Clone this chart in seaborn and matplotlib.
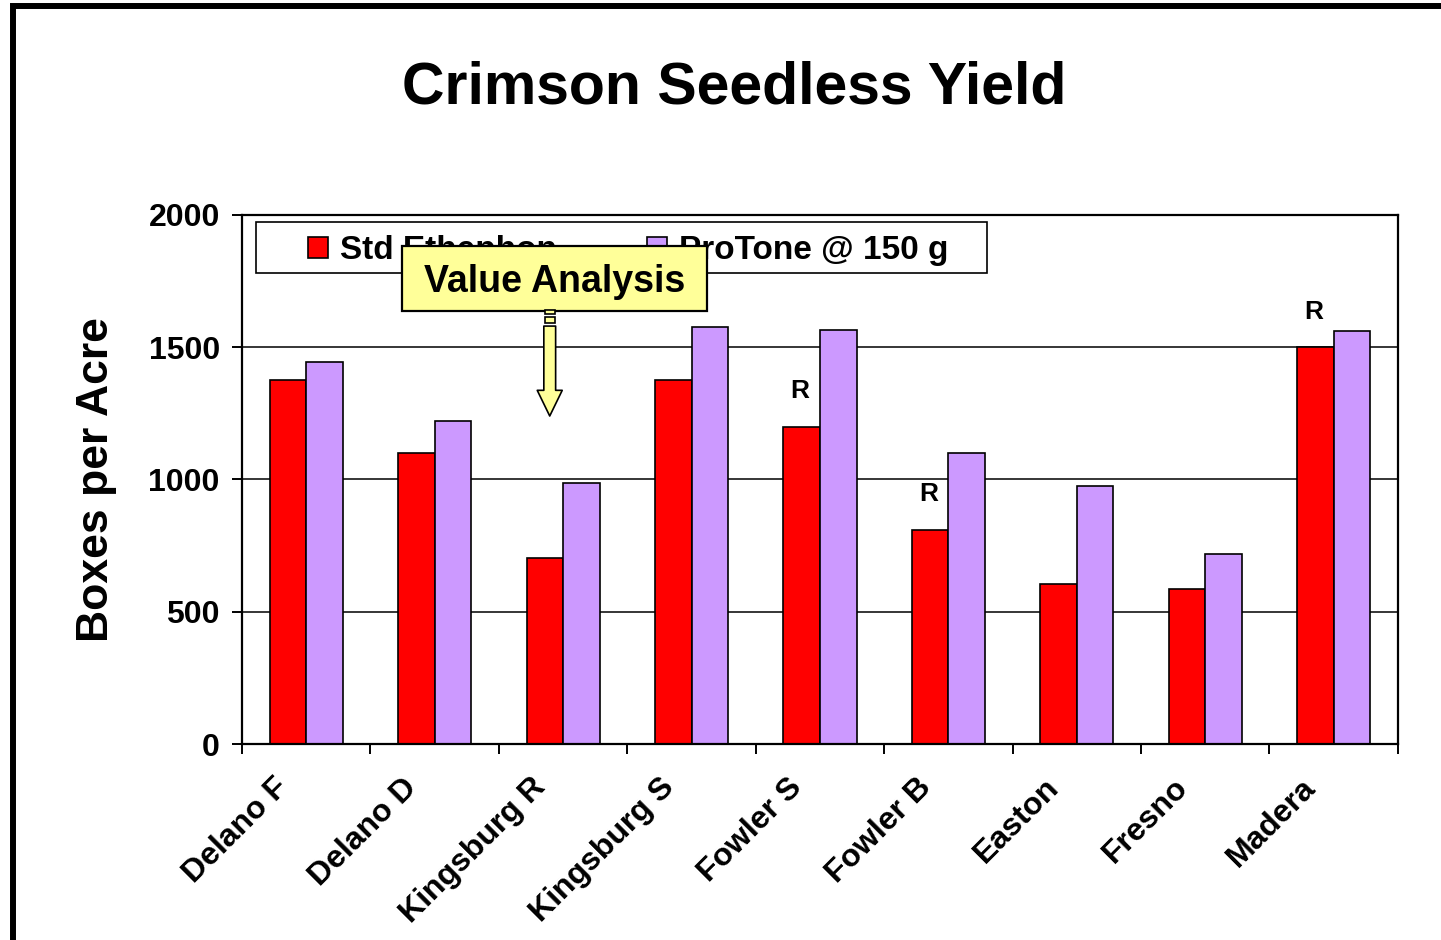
import pandas as pd
import matplotlib
matplotlib.use("Agg")
import matplotlib.pyplot as plt
import matplotlib.patches as mpatches
import matplotlib.transforms as mtransforms
from matplotlib.ticker import FixedLocator
import seaborn as sns

# data
sites = ['Delano F', 'Delano D', 'Kingsburg R', 'Kingsburg S', 'Fowler S',
         'Fowler B', 'Easton', 'Fresno', 'Madera']
std_ethephon = [1375, 1100, 705, 1375, 1200, 810, 605, 585, 1500]
protone_150 = [1445, 1220, 985, 1575, 1565, 1100, 975, 720, 1560]
std_marks = ['', '', '', '', 'R', 'R', '', '', 'R']
series_names = ['Std Ethephon', 'ProTone @ 150 g']
colors = ['#FF0000', '#CC99FF']

df = pd.DataFrame({
    'Site': sites * 2,
    'Yield': std_ethephon + protone_150,
    'Treatment': [series_names[0]] * len(sites) + [series_names[1]] * len(sites),
})

sns.set_theme(style='white')
plt.rcParams['font.family'] = ['Liberation Sans', 'DejaVu Sans']
plt.rcParams['font.weight'] = 'bold'
plt.rcParams['text.color'] = 'black'
plt.rcParams['axes.labelcolor'] = 'black'
plt.rcParams['xtick.color'] = 'black'
plt.rcParams['ytick.color'] = 'black'

fig = plt.figure(figsize=(14.41, 9.40), dpi=100)
ax = fig.add_axes([0.168, 0.2085, 0.802, 0.5628])

sns.barplot(data=df, x='Site', y='Yield', hue='Treatment', order=sites,
            hue_order=series_names, palette=colors, width=0.57, gap=0,
            edgecolor='black', linewidth=1.2, saturation=1, ax=ax, legend=False)

ax.set_ylim(0, 2000)
ax.set_xlim(-0.5, len(sites) - 0.5)
ax.set_yticks([0, 500, 1000, 1500, 2000])
ax.set_axisbelow(True)
ax.yaxis.grid(True, color='black', linewidth=1.1)
ax.xaxis.grid(False)
for s in ax.spines.values():
    s.set_visible(True)
    s.set_color('black')
    s.set_linewidth(1.6)

ax.tick_params(axis='y', direction='out', length=7, width=1.4, color='black',
               labelsize=23, pad=9, left=True, labelcolor='black')
ax.xaxis.set_minor_locator(FixedLocator([i - 0.5 for i in range(len(sites) + 1)]))
ax.tick_params(axis='x', which='minor', direction='out', length=7, width=1.4,
               color='black', bottom=True)
ax.tick_params(axis='x', which='major', length=0, pad=28, labelsize=23,
               labelcolor='black')
for lab in ax.get_yticklabels():
    lab.set_fontweight('bold')
shift = mtransforms.ScaledTranslation(-0.22, 0, fig.dpi_scale_trans)
for lab in ax.get_xticklabels():
    lab.set_rotation(45)
    lab.set_ha('right')
    lab.set_va('center')
    lab.set_rotation_mode('anchor')
    lab.set_fontweight('bold')
    lab.set_transform(lab.get_transform() + shift)

ax.set_xlabel('')
ax.set_ylabel('Boxes per Acre', fontsize=32, fontweight='bold', color='black')
ax.yaxis.set_label_coords(-0.108, 0.5)

# "R" marks above the Std Ethephon bars
for i, m in enumerate(std_marks):
    if m:
        ax.annotate(m, xy=(i - 0.1425, std_ethephon[i]), xytext=(-1, 17),
                    textcoords='offset points', ha='center', va='bottom',
                    fontsize=19, fontweight='bold')

# legend with its own rectangular frame
ax.add_patch(mpatches.Rectangle((0.0121, 0.8904), 0.6324, 0.0964,
                                transform=ax.transAxes, facecolor='white',
                                edgecolor='black', linewidth=1.2, zorder=4))
handles = [mpatches.Patch(facecolor=c, edgecolor='black', linewidth=1.2) for c in colors]
leg = ax.legend(handles, series_names, loc='center', ncol=2,
                bbox_to_anchor=(0.3339, 0.9320), frameon=False,
                prop={'size': 24, 'weight': 'bold'}, handlelength=0.6,
                handleheight=0.6, handletextpad=0.36, columnspacing=2.69)
leg.set_zorder(5)

# yellow callout
ax.add_patch(mpatches.Rectangle((0.1384, 0.8185), 0.2638, 0.1229,
                                transform=ax.transAxes, facecolor='#FFFF99',
                                edgecolor='black', linewidth=1.6, zorder=6))
ax.text(0.2703, 0.873, 'Value Analysis', transform=ax.transAxes, ha='center',
        va='center', fontsize=27, fontweight='bold', zorder=7)
for y0, h in [(0.8130, 0.0075), (0.7960, 0.0120)]:
    ax.add_patch(mpatches.Rectangle((0.2620, y0), 0.0085, h, transform=ax.transAxes,
                                    facecolor='#FFFF99', edgecolor='black',
                                    linewidth=1.2, zorder=6))
arrow = mpatches.FancyArrowPatch((0.2662, 0.7900), (0.2662, 0.6200),
                                 transform=ax.transAxes,
                                 arrowstyle='simple,head_length=1.85,head_width=1.8,tail_width=0.85',
                                 mutation_scale=10, facecolor='#FFFF99',
                                 edgecolor='black', linewidth=1.2, shrinkA=0, shrinkB=0,
                                 zorder=6)
ax.add_patch(arrow)

fig.text(0.5095, 0.890, 'Crimson Seedless Yield', ha='center', va='baseline',
         fontsize=42.5, fontweight='bold')

# outer frame of the slide
fig.add_artist(mpatches.Rectangle((12.5 / 1441, -0.1), 1.2, (940 - 5.5) / 940 + 0.1,
                                  transform=fig.transFigure, fill=False,
                                  edgecolor='black', linewidth=4.3))

fig.savefig('out.png', dpi=100, facecolor='white')
